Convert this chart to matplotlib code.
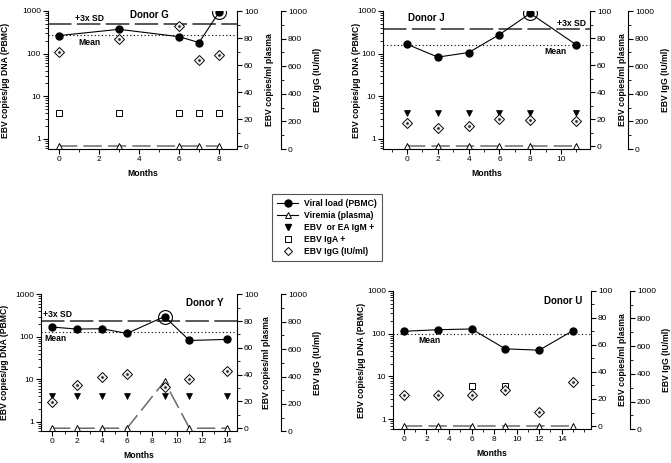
import matplotlib
matplotlib.use("Agg")
import matplotlib.pyplot as plt
from matplotlib.ticker import FixedLocator, FuncFormatter, MultipleLocator, LogLocator, NullFormatter
from matplotlib.lines import Line2D

plt.rcParams['font.family'] = ['Liberation Sans', 'DejaVu Sans']
plt.rcParams['font.size'] = 6.3

# ---------------- data ----------------
# Donor G
g_months = [0, 3, 6, 7, 8]
g_pbmc = [265, 372, 250, 182, 930]
g_plasma = [0, 0, 0, 0, 0]
g_iga_months = [0, 3, 6, 7, 8]
g_iga = [4, 4, 4, 4, 4]
g_igg = [703, 797, 891, 645, 681]
g_mean = 275
g_sd = 500
g_peak = 8

# Donor J
j_months = [0, 2, 4, 6, 8, 11]
j_pbmc = [166, 83, 106, 280, 882, 160]
j_plasma = [0, 0, 0, 0, 0, 0]
j_igm_months = [0, 2, 4, 6, 8, 11]
j_igm = [4, 4, 4, 4, 4, 4]
j_igg = [188, 152, 167, 217, 210, 203]
j_mean = 160
j_sd = 379
j_peak = 8

# Donor Y
y_months = [0, 2, 4, 6, 9, 11, 14]
y_pbmc = [170, 152, 155, 120, 300, 82, 87]
y_plasma = [0, 0, 0, 0, 35, 0, 0]
y_igm_months = [0, 2, 4, 6, 9, 11, 14]
y_igm = [4, 4, 4, 4, 4, 4, 4]
y_igg = [214, 338, 397, 418, 325, 382, 440]
y_mean = 127
y_sd = 240
y_peak = 9

# Donor U
u_months = [0, 3, 6, 9, 12, 15]
u_pbmc = [113, 123, 128, 44, 41, 117]
u_plasma = [0, 0, 0, 0, 0, 0]
u_iga_months = [6, 9]
u_iga = [6, 6]
u_igm_months = [9]
u_igm = [4.3]
u_igg = [250, 250, 245, 285, 127, 343]
u_mean = 97

left_ticks = [1, 10, 100, 1000]
plasma_ticks = [0, 20, 40, 60, 80, 100]
igg_ticks = [0, 200, 400, 600, 800, 1000]

W, H = 671, 463
fig = plt.figure(figsize=(W / 100, H / 100), dpi=100)

SDCOL = '#4a4a4a'
BASECOL = '#6a6a6a'
FS = 6.2


def px_rect(x0, x1, ytop, ybot):
    return [x0 / W, 1 - ybot / H, (x1 - x0) / W, (ybot - ytop) / H]


def style_ticks(ax, axis):
    ax.tick_params(axis=axis, which='major', direction='out', length=3.5, width=0.8, pad=1.6, labelsize=6.0)
    ax.tick_params(axis=axis, which='minor', direction='out', length=2, width=0.6)


def panel(rect, xlim, ylo, plo, xticks, months, pbmc, plasma, igg, peak,
          mean, sd, iga=None, igm=None, third_off=44, texts=(), label_x=(-0.2, 1.15, 1.40)):
    ax = fig.add_axes(rect)
    ax.set_yscale('log')
    ax.set_xlim(*xlim)
    ax.set_ylim(ylo, 1000)
    for s in ['top', 'right']:
        ax.spines[s].set_visible(False)
    for s in ['left', 'bottom']:
        ax.spines[s].set_linewidth(0.8)
    ax.yaxis.set_major_locator(FixedLocator(left_ticks))
    ax.yaxis.set_major_formatter(FuncFormatter(lambda v, p: '%d' % v))
    ax.yaxis.set_minor_locator(LogLocator(base=10, subs=[2, 3, 4, 5, 6, 7, 8, 9]))
    ax.yaxis.set_minor_formatter(NullFormatter())
    ax.xaxis.set_major_locator(FixedLocator(xticks))
    ax.xaxis.set_minor_locator(MultipleLocator(1))
    style_ticks(ax, 'x')
    style_ticks(ax, 'y')
    ax.set_ylabel('EBV copies/µg DNA (PBMC)', fontweight='bold', fontsize=FS)
    ax.yaxis.set_label_coords(label_x[0], 0.5)
    ax.set_xlabel('Months', fontweight='bold', fontsize=FS, labelpad=4)

    # reference lines
    ax.axhline(mean, color='black', lw=0.8, ls=(0, (1, 2.2)), zorder=1)
    if sd is not None:
        ax.axhline(sd, color=SDCOL, lw=1.3, ls=(0, (13, 3)), zorder=1)

    # plasma axis
    ap = ax.twinx()
    ap.set_ylim(plo, 100)
    for s in ['top', 'left', 'bottom']:
        ap.spines[s].set_visible(False)
    ap.spines['right'].set_linewidth(0.8)
    ap.yaxis.set_major_locator(FixedLocator(plasma_ticks))
    ap.yaxis.set_minor_locator(MultipleLocator(10))
    style_ticks(ap, 'y')
    ap.set_ylabel('EBV copies/ml plasma', fontweight='bold', fontsize=FS, rotation=90)
    ap.yaxis.set_label_coords(label_x[1], 0.5)

    # IgG axis
    ag = ax.twinx()
    ag.set_ylim(0, 1000)
    for s in ['top', 'left', 'bottom']:
        ag.spines[s].set_visible(False)
    ag.spines['right'].set_position(('outward', third_off * 0.72))
    ag.spines['right'].set_linewidth(0.8)
    ag.yaxis.set_major_locator(FixedLocator(igg_ticks))
    ag.yaxis.set_minor_locator(MultipleLocator(100))
    style_ticks(ag, 'y')
    ag.set_ylabel('EBV IgG (IU/ml)', fontweight='bold', fontsize=FS, rotation=90)
    ag.yaxis.set_label_coords(label_x[2], 0.5)

    # plasma viremia
    ap.plot(months, plasma, color=BASECOL, lw=1.1, ls=(0, (12, 4)), zorder=2, clip_on=False)
    ap.plot(months, plasma, ls='none', marker='^', ms=4.8, mfc='white', mec='black', mew=0.7,
            zorder=4, clip_on=False)

    # serology indicators
    if iga is not None:
        ax.plot(iga[0], iga[1], ls='none', marker='s', ms=4.5, mfc='white', mec='black', mew=0.7, zorder=3)
    if igm is not None:
        ax.plot(igm[0], igm[1], ls='none', marker='v', ms=5, mfc='black', mec='black', mew=0.5, zorder=3)

    # IgG diamonds
    ag.plot(months, igg, ls='none', marker='D', ms=4.8, mfc='white', mec='black', mew=0.7, zorder=3)
    ag.plot(months, igg, ls='none', marker='D', ms=1.6, mfc='#333333', mec='#333333', mew=0.3, zorder=3)

    # viral load on top
    axv = ax.twinx()
    axv.set_yscale('log')
    axv.set_ylim(ylo, 1000)
    axv.set_axis_off()
    axv.plot(months, pbmc, color='black', lw=0.8, marker='o', ms=5, mfc='black', mec='black', zorder=5)
    if peak is not None:
        pv = pbmc[months.index(peak)]
        axv.plot([peak], [pv], ls='none', marker='o', ms=10, mfc='none', mec='black', mew=0.8, zorder=5)

    for (tx, ty, s, ha, fs) in texts:
        ax.text(tx, ty, s, transform=ax.transAxes, ha=ha, va='center', fontweight='bold', fontsize=fs)
    return ax


# Donor G
panel(px_rect(48, 237, 11, 149), (-0.55, 8.9), 0.58, -2.2, [0, 2, 4, 6, 8],
      g_months, g_pbmc, g_plasma, g_igg, g_peak, g_mean, g_sd,
      iga=(g_iga_months, g_iga), third_off=44,
      texts=[(0.534, 0.971, 'Donor G', 'center', 7), (0.143, 0.949, '+3x SD', 'left', FS),
             (0.159, 0.775, 'Mean', 'left', FS)],
      label_x=(-0.20, 1.148, 1.402))

# Donor J
panel(px_rect(383, 590, 11, 149), (-1.56, 11.88), 0.58, -2.2, [0, 2, 4, 6, 8, 10],
      j_months, j_pbmc, j_plasma, j_igg, j_peak, j_mean, j_sd,
      igm=(j_igm_months, j_igm), third_off=38,
      texts=[(0.121, 0.949, 'Donor J', 'left', 7), (0.913, 0.913, '+3x SD', 'center', FS),
             (0.831, 0.703, 'Mean', 'center', FS)],
      label_x=(-0.108, 1.135, 1.342))

# Donor Y
panel(px_rect(41, 237, 294.3, 431.3), (-0.88, 14.8), 0.60, -2.3, [0, 2, 4, 6, 8, 10, 12, 14],
      y_months, y_pbmc, y_plasma, y_igg, y_peak, y_mean, y_sd,
      igm=(y_igm_months, y_igm), third_off=44,
      texts=[(0.837, 0.936, 'Donor Y', 'center', 7), (0.01, 0.855, '+3x SD', 'left', FS),
             (0.015, 0.674, 'Mean', 'left', FS)],
      label_x=(-0.165, 1.128, 1.388))

# Donor U
panel(px_rect(393, 591, 290.7, 429.3), (-0.97, 16.6), 0.585, -2.4, [0, 2, 4, 6, 8, 10, 12, 14],
      u_months, u_pbmc, u_plasma, u_igg, None, u_mean, None,
      iga=(u_iga_months, u_iga), igm=(u_igm_months, u_igm), third_off=39,
      texts=[(0.859, 0.926, 'Donor U', 'center', 7), (0.182, 0.638, 'Mean', 'center', FS)],
      label_x=(-0.135, 1.136, 1.36))

# legend
handles = [
    Line2D([], [], color='black', lw=0.8, marker='o', ms=5, mfc='black', mec='black'),
    Line2D([], [], color='black', lw=0.8, marker='^', ms=4.8, mfc='white', mec='black', mew=0.7),
    Line2D([], [], ls='none', marker='v', ms=5, mfc='black', mec='black'),
    Line2D([], [], ls='none', marker='s', ms=4.5, mfc='white', mec='black', mew=0.7),
    Line2D([], [], ls='none', marker='D', ms=4.3, mfc='white', mec='black', mew=0.7),
]
labels = ['Viral load (PBMC)', 'Viremia (plasma)', 'EBV  or EA IgM +', 'EBV IgA +', 'EBV IgG (IU/ml)']
leg = fig.legend(handles, labels, loc='center', bbox_to_anchor=(0.4873, 0.5086),
                 frameon=True, fancybox=False, edgecolor='#555555', framealpha=1,
                 prop={'weight': 'bold', 'size': FS}, handlelength=2.4, handletextpad=0.7,
                 labelspacing=0.35, borderpad=0.6)
leg.get_frame().set_linewidth(0.8)

fig.savefig('out.png', dpi=100)
